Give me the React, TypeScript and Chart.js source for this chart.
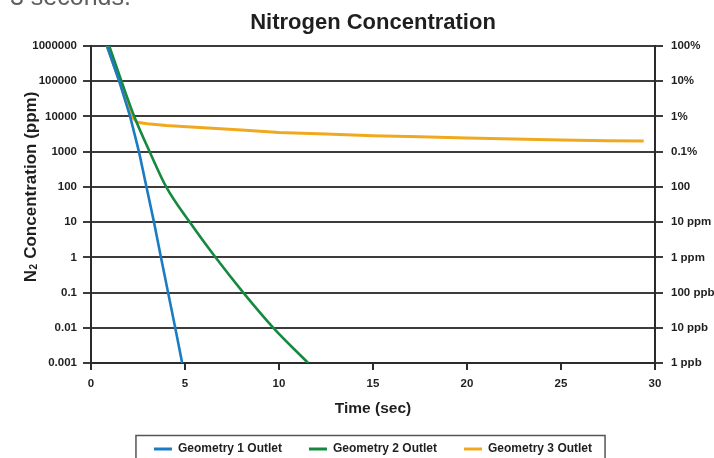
import React, { useEffect, useRef } from 'react';
import { Chart, registerables } from 'chart.js';

Chart.register(...registerables);

const PAGE_TEXT = '3 seconds.';
const TITLE = 'Nitrogen Concentration';
const X_TITLE = 'Time (sec)';
const Y_TITLE_MAIN = 'N';
const Y_TITLE_SUB = '2';
const Y_TITLE_REST = ' Concentration (ppm)';

const seriesNames = ['Geometry 1 Outlet', 'Geometry 2 Outlet', 'Geometry 3 Outlet'];
const seriesColors = ['#1b7cc4', '#14893f', '#f0a91e'];

const geo1Time = [0.85, 1.5, 2.08, 2.55, 2.95, 3.35, 3.72, 4.1, 4.48, 4.85];
const geo1Value = [1000000, 100000, 10000, 1000, 100, 10, 1, 0.1, 0.01, 0.001];

const geo2Time = [0.97, 1.62, 2.3, 3.12, 4.0, 5.25, 6.62, 8.1, 9.7, 11.55];
const geo2Value = [1000000, 100000, 10000, 1000, 100, 10, 1, 0.1, 0.01, 0.001];

const geo3Time = [0.85, 1.52, 2.16, 2.46, 3, 4, 6, 8, 10, 12.5, 15, 17.5, 20, 22.5, 25, 27.5, 29.4];
const geo3Value = [1000000, 100000, 10000, 6800, 6200, 5500, 4800, 4100, 3500, 3150, 2850, 2650, 2450, 2300, 2150, 2050, 2000];

const yTickValues = [0.001, 0.01, 0.1, 1, 10, 100, 1000, 10000, 100000, 1000000];
const leftTickLabels = ['0.001', '0.01', '0.1', '1', '10', '100', '1000', '10000', '100000', '1000000'];
const rightTickLabels = ['1 ppb', '10 ppb', '100 ppb', '1 ppm', '10 ppm', '100', '0.1%', '1%', '10%', '100%'];

const X_MIN = 0;
const X_MAX = 30;
const X_STEP = 5;

const FONT = '"Liberation Sans", Arial, Helvetica, sans-serif';
const INK = '#1f1f1f';
const AXIS = '#2b2b2b';
const GRID = '#3c3c3c';

const decorPlugin = {
  id: 'decor',
  afterDraw(chart: any) {
    const ctx = chart.ctx;
    ctx.save();
    // partially visible text above the chart
    ctx.font = `25px ${FONT}`;
    ctx.fillStyle = '#5e5e5e';
    ctx.textAlign = 'left';
    ctx.textBaseline = 'alphabetic';
    ctx.fillText(PAGE_TEXT, 10, 5);

    // y axis title with subscript
    const mainFont = `bold 17px ${FONT}`;
    const subFont = `bold 10px ${FONT}`;
    ctx.font = mainFont;
    const wMain = ctx.measureText(Y_TITLE_MAIN).width;
    const wRest = ctx.measureText(Y_TITLE_REST).width;
    ctx.font = subFont;
    const wSub = ctx.measureText(Y_TITLE_SUB).width + 1;
    const total = wMain + wSub + wRest;
    ctx.translate(35.5, 187);
    ctx.rotate(-Math.PI / 2);
    ctx.fillStyle = INK;
    let x = -total / 2;
    ctx.font = mainFont;
    ctx.fillText(Y_TITLE_MAIN, x, 0);
    x += wMain + 0.5;
    ctx.font = subFont;
    ctx.fillText(Y_TITLE_SUB, x, 1.5);
    x += wSub - 0.5;
    ctx.font = mainFont;
    ctx.fillText(Y_TITLE_REST, x, 0);
    ctx.restore();

    // legend frame
    const legend = chart.legend;
    if (legend && legend.legendHitBoxes && legend.legendHitBoxes.length) {
      const boxes = legend.legendHitBoxes;
      const first = boxes[0];
      const last = boxes[boxes.length - 1];
      const left = first.left - 18;
      const right = last.left + last.width + 13;
      const top = first.top + first.height / 2 - 13.5;
      ctx.save();
      ctx.strokeStyle = '#555555';
      ctx.lineWidth = 1.5;
      ctx.strokeRect(left, top, right - left, 40);
      ctx.restore();
    }
  },
};

export default function App() {
  const canvasRef = useRef<HTMLCanvasElement | null>(null);

  useEffect(() => {
    const canvas = canvasRef.current;
    if (!canvas) return;

    const mk = (t: number[], v: number[]) => t.map((tt, i) => ({ x: tt, y: v[i] }));

    const datasets = [
      {
        label: seriesNames[0],
        data: mk(geo1Time, geo1Value),
        borderColor: seriesColors[0],
        backgroundColor: seriesColors[0],
        borderWidth: 2.6,
        pointRadius: 0,
        tension: 0,
      },
      {
        label: seriesNames[1],
        data: mk(geo2Time, geo2Value),
        borderColor: seriesColors[1],
        backgroundColor: seriesColors[1],
        borderWidth: 2.6,
        pointRadius: 0,
        cubicInterpolationMode: 'monotone' as const,
      },
      {
        label: seriesNames[2],
        data: mk(geo3Time, geo3Value),
        borderColor: seriesColors[2],
        backgroundColor: seriesColors[2],
        borderWidth: 3,
        pointRadius: 0,
        tension: 0,
      },
    ];

    const tickFont = { family: FONT, size: 11.5, weight: 'bold' as const };

    const chart = new Chart(canvas, {
      type: 'line',
      data: { datasets },
      plugins: [decorPlugin],
      options: {
        animation: false,
        responsive: false,
        devicePixelRatio: 1,
        layout: { padding: 0 },
        plugins: {
          title: {
            display: true,
            text: TITLE,
            color: INK,
            fullSize: false,
            font: { family: FONT, size: 22, weight: 'bold', lineHeight: 1.2 },
            padding: { top: 10, bottom: 9.6 },
          },
          legend: {
            display: true,
            position: 'bottom',
            fullSize: false,
            maxHeight: 42,
            labels: {
              boxWidth: 18,
              boxHeight: 3,
              padding: 27,
              color: INK,
              font: { family: FONT, size: 12, weight: 'bold' },
              generateLabels: (ch: any) =>
                Chart.defaults.plugins.legend.labels.generateLabels(ch).map((it: any) => ({
                  ...it,
                  fillStyle: it.strokeStyle,
                  lineWidth: 0,
                })),
            },
          },
          tooltip: { enabled: false },
        },
        scales: {
          x: {
            type: 'linear',
            position: 'bottom',
            min: X_MIN,
            max: X_MAX,
            ticks: { stepSize: X_STEP, padding: 7, color: INK, font: tickFont },
            grid: { drawOnChartArea: false, drawTicks: true, tickLength: 7, color: AXIS, lineWidth: 2 },
            border: { display: true, color: AXIS, width: 2 },
            title: {
              display: true,
              text: X_TITLE,
              color: INK,
              font: { family: FONT, size: 15.5, weight: 'bold', lineHeight: 1 },
              padding: { top: 4, bottom: 0 },
            },
            afterFit: (s: any) => {
              s.height = 53;
            },
          },
          y: {
            type: 'logarithmic',
            position: 'left',
            min: yTickValues[0],
            max: yTickValues[yTickValues.length - 1],
            afterBuildTicks: (s: any) => {
              s.ticks = yTickValues.map((v) => ({ value: v, major: true }));
            },
            ticks: {
              autoSkip: false,
              padding: 6,
              color: INK,
              font: tickFont,
              callback: (_v: any, i: number) => leftTickLabels[i],
            },
            grid: { color: GRID, lineWidth: 2, tickLength: 8, drawTicks: true },
            border: { display: true, color: AXIS, width: 2 },
            afterFit: (s: any) => {
              s.width = 91;
            },
          },
          y2: {
            type: 'logarithmic',
            position: 'right',
            min: yTickValues[0],
            max: yTickValues[yTickValues.length - 1],
            afterBuildTicks: (s: any) => {
              s.ticks = yTickValues.map((v) => ({ value: v, major: true }));
            },
            ticks: {
              autoSkip: false,
              padding: 8,
              color: INK,
              font: tickFont,
              callback: (_v: any, i: number) => rightTickLabels[i],
            },
            grid: { drawOnChartArea: false, color: GRID, lineWidth: 2, tickLength: 8, drawTicks: true },
            border: { display: true, color: AXIS, width: 2 },
            afterFit: (s: any) => {
              s.width = 59;
            },
          },
        },
      } as any,
    });

    return () => {
      chart.destroy();
    };
  }, []);

  return (
    <div style={{ position: 'absolute', left: 0, top: 0, width: 714, height: 458, background: '#ffffff' }}>
      <canvas ref={canvasRef} width={714} height={458} style={{ display: 'block' }} />
    </div>
  );
}
